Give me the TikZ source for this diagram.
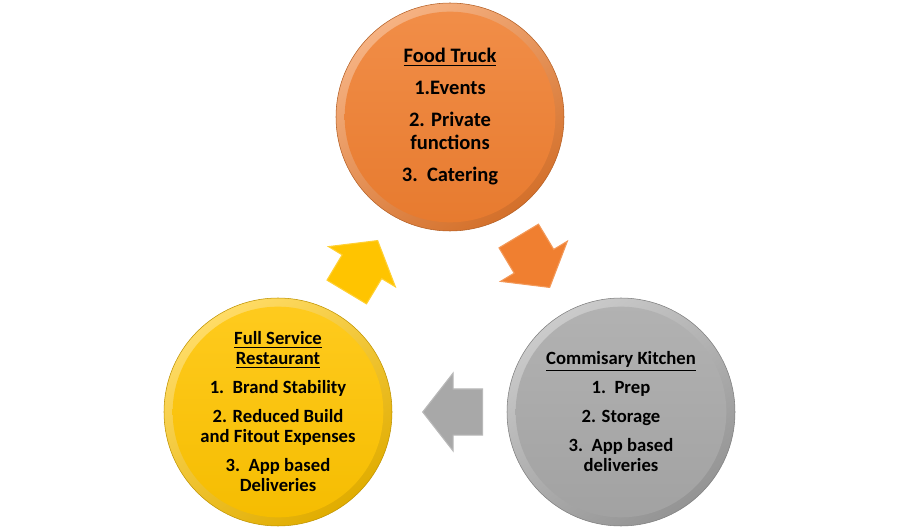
\documentclass[tikz,border=0pt]{standalone}
\usepackage{fontspec}
\setmainfont{Carlito}
\usetikzlibrary{shapes.arrows}

\definecolor{truckorange}{HTML}{F07F30}
\definecolor{restgold}{HTML}{FFC400}
\definecolor{kitchengray}{HTML}{A8A8A8}

\tikzset{%
          bubble/.style={
            circle,
            minimum size=171pt,
            inner sep=0pt,
            align=center,
            draw=#1!75!black,
            line width=0.4pt,
            top color=#1!60!white,
            bottom color=#1!88!black,
            shading angle=35,
            path picture={\shade[top color=#1!88!white, bottom color=#1!96!black]
              (path picture bounding box.center) circle (79pt);}
          },
          block arrow/.style={
            single arrow,
            anchor=tip,
            minimum height=45pt,
            inner xsep=0pt,
            inner ysep=16.875pt,
            single arrow head extend=12pt,
            single arrow tip angle=104,
            fill=#1,
            draw=#1!80!white,
            line width=0.8pt
          },
        }

\begin{document}
\begin{tikzpicture}[x=0.75pt, y=0.75pt]
        \useasboundingbox (0,0) rectangle (900,529);

        \node [bubble=truckorange, font=\bfseries\fontsize{15.4}{17.25}\selectfont] (truck) at (450,412)
          {\underline{Food Truck}\\[6.75pt] 1.Events\\[6.75pt] 2. Private\\ functions\\[6.75pt] 3.\ \ Catering};
        \node [bubble=restgold, font=\bfseries\fontsize{14}{15}\selectfont] (restaurant) at (278,117)
          {\underline{Full Service}\\ \underline{Restaurant}\\[6.75pt] 1.\ \ Brand Stability\\[6.75pt] 2. Reduced Build\\ and Fitout Expenses\\[6.75pt] 3.\ \ App based\\ Deliveries};
        \node [bubble=kitchengray, font=\bfseries\fontsize{14}{15}\selectfont] (kitchen) at (621,117)
          {\underline{Commisary Kitchen}\\[6.75pt] 1.\ \ Prep\\[6.75pt] 2. Storage\\[6.75pt] 3.\ \ App based\\ deliveries};

        \node [block arrow=restgold, rotate=59] (up-arrow) at (378,289) {};
        \node [block arrow=truckorange, rotate=-59] (down-arrow) at (550,241) {};
        \node [block arrow=kitchengray, rotate=180] (left-arrow) at (422,117) {};

        \end{tikzpicture}
\end{document}
